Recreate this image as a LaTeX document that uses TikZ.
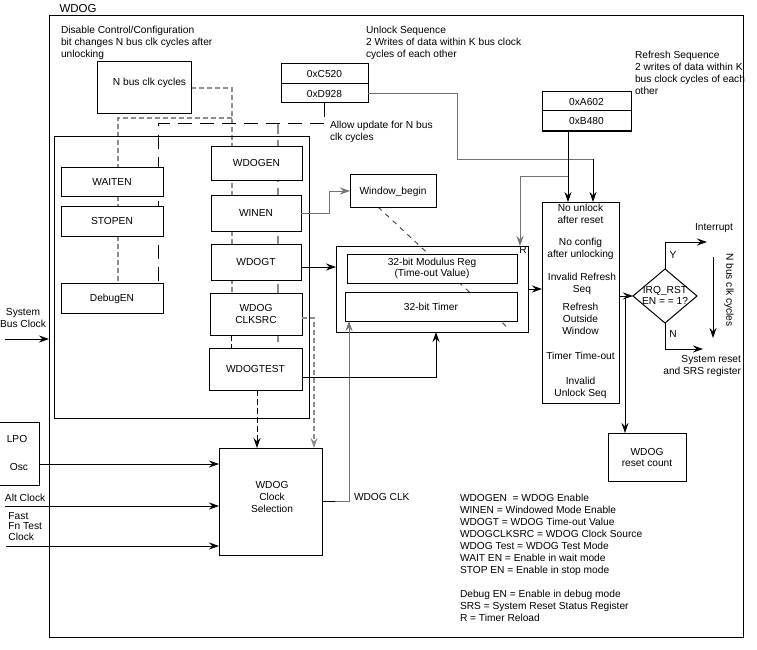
\documentclass[tikz,border=0pt]{standalone}
\usepackage{fontspec}
\setmainfont{Liberation Sans}
\usetikzlibrary{arrows.meta,shapes.geometric}
\pgfdeclarelayer{bg}
\pgfsetlayers{bg,main}
\newcommand\wdf{\fontsize{10.2}{12}\selectfont}
\begin{document}
\begin{tikzpicture}[x=1pt,y=-1pt,
  every node/.style={inner sep=0pt,outer sep=0pt,font=\wdf},
  box/.style={draw,line width=1pt,fill=white,align=center},
  frame/.style={draw,line width=1pt},
  one/.style={text height=7.3pt,text depth=0pt},
  arr/.style={line width=0.9pt,-{Stealth[length=10pt,width=7pt,inset=3.5pt]}},
  con/.style={line width=0.9pt},
  gdash/.style={line width=1.2pt,draw=black!45,dash pattern=on 5pt off 3pt},
  gdashl/.style={line width=1.4pt,draw=black!45,dash pattern=on 10pt off 6pt},
  kdash/.style={line width=1pt,dash pattern=on 14pt off 8pt},
  kdashs/.style={line width=1pt,dash pattern=on 6pt off 3pt},
  txt/.style={align=left,anchor=north west},
]
\useasboundingbox (0,0) rectangle (757,650);

% frame and titles
\node[frame,minimum width=694,minimum height=621] (outer) at (396,326.5) {};
\node[font=\fontsize{11.5}{13}\selectfont,anchor=west] (title) at (59.5,8.5) {WDOG};
\node[txt] (distxt) at (61,26.3) {Disable Control/Configuration\\bit changes N bus clk cycles after\\unlocking};
\node[txt] (unltxt) at (366,26.3) {Unlock Sequence\\2 Writes of data within K bus clock\\cycles of each other};
\node[txt] (reftxt) at (635,51.3) {Refresh Sequence\\2 writes of data within K\\bus clock cycles of each\\other};
\node[txt] (allowtxt) at (330,121.3) {Allow update for N bus\\clk cycles};

% top boxes
\node[box,minimum width=94,minimum height=52] (nbus) at (144,88) {};
\node[anchor=base] (nbustxt) at (149.5,85.6) {N bus clk cycles};
\node[box,one,minimum width=87,minimum height=20] (c520) at (324.5,74) {0xC520};
\node[box,one,minimum width=87,minimum height=19] (d928) at (324.5,93.5) {0xD928};
\node[box,one,minimum width=89,minimum height=19] (a602) at (586.5,101.5) {0xA602};
\node[box,one,minimum width=89,minimum height=20] (b480) at (586.5,121) {0xB480};

% configuration register block
\node[frame,minimum width=255,minimum height=282] (cfg) at (181.5,277) {};
\node[box,one,minimum width=102,minimum height=29] (waiten) at (112,181.5) {WAITEN};
\node[box,one,minimum width=102,minimum height=30] (stopen) at (112,221) {STOPEN};
\node[box,one,minimum width=102,minimum height=30] (debugen) at (112,298) {DebugEN};
\node[box,one,minimum width=91,minimum height=34] (wdogen) at (256.5,163) {WDOGEN};
\node[box,one,minimum width=90,minimum height=36] (winen) at (256,213) {WINEN};
\node[box,one,minimum width=90,minimum height=36] (wdogt) at (256,262) {WDOGT};
\node[box,minimum width=92,minimum height=42] (clksrc) at (256,314) {WDOG\\CLKSRC};
\node[box,one,minimum width=93,minimum height=42] (wdogtest) at (255.5,369) {WDOGTEST};

% clock selection
\node[box,minimum width=103,minimum height=107] (clksel) at (270.5,501.5) {};
\node[align=center] (clkseltxt) at (272,497) {WDOG\\Clock\\Selection};
\node[frame,minimum width=41,minimum height=63] (lpo) at (18.5,453.5) {};
\node (lpotxt) at (17,439) {LPO};
\node (osctxt) at (19,467) {Osc};

% timer
\node[box,one,minimum width=86,minimum height=33] (winbegin) at (393,190.5) {Window\_begin};
\node[frame,minimum width=192,minimum height=86] (timerout) at (432,289) {};
\node[box,minimum width=170,minimum height=29,font=\fontsize{10.2}{11}\selectfont] (modreg) at (432,268.5) {32-bit Modulus Reg\\(Time-out Value)};
\node[box,one,minimum width=172,minimum height=29] (timer) at (431,306.5) {32-bit Timer};
\node (rlbl) at (523,249.5) {R};

% error conditions
\node[box,minimum width=77,minimum height=201] (errbox) at (580.5,302.5) {};
\node[anchor=north,align=center] (e1) at (580.5,204.3) {No unlock\\after reset};
\node[anchor=north,align=center] (e2) at (580.5,238.3) {No config\\after unlocking};
\node[anchor=north,align=center] (e3) at (582,273.3) {Invalid Refresh\\Seq};
\node[anchor=north,align=center] (e4) at (580.5,303.3) {Refresh\\Outside\\Window};
\node[anchor=north,align=center] (e5) at (580.5,352.3) {Timer Time-out};
\node[anchor=north,align=center] (e6) at (580.5,377.3) {Invalid\\Unlock Seq};

\node[frame,diamond,minimum width=64,minimum height=54] (dia) at (665,296) {};
\node[align=center,font=\fontsize{10.2}{10.3}\selectfont] (diatxt) at (665,295.5) {IRQ\_RST\\EN = = 1?};
\node[box,minimum width=78,minimum height=48,font=\fontsize{10.2}{11}\selectfont] (resetcnt) at (647,457) {WDOG\\reset count};

\node[anchor=base] (ylbl) at (673,258.6) {Y};
\node[anchor=base] (nlbl) at (673,337.6) {N};
\node[anchor=base] (intr) at (714,230.6) {Interrupt};
\node[anchor=north east,align=right] (sysrst) at (741,355.3) {System reset\\and SRS register};
\node[rotate=-90] (nbusv) at (729,290) {N bus clk cycles};

% legend
\node[txt] (legend) at (460,494.3) {WDOGEN~ = WDOG Enable\\WINEN = Windowed Mode Enable\\WDOGT = WDOG Time-out Value\\WDOGCLKSRC = WDOG Clock Source\\WDOG Test = WDOG Test Mode\\WAIT EN = Enable in wait mode\\STOP EN = Enable in stop mode\\[12pt]Debug EN = Enable in debug mode\\SRS = System Reset Status Register\\R = Timer Reload};

% input labels
\node[anchor=north,align=center] (systxt) at (23,308.3) {System\\Bus Clock};
\node[anchor=base west] (alttxt) at (5,501.6) {Alt Clock};
\node[txt,font=\fontsize{10.2}{10.5}\selectfont] (fasttxt) at (8.5,512.3) {Fast\\Fn Test\\Clock};
\node[anchor=base west] (clktxt) at (354,500.6) {WDOG CLK};

\coordinate (sysin) at (5,339);
\coordinate (altin) at (5,506);
\coordinate (fastin) at (6,546);
\coordinate (intend) at (707,242);
\coordinate (nend) at (703,349);
\coordinate (nbs) at (713,257);
\coordinate (nbe) at (713,338);

% lines running behind boxes
\begin{pgfonlayer}{bg}
\draw[gdash] (nbus.east |- 0,88) -- (232,88) -- (clksrc.north -| 232,0);
\draw[gdash] (232,118) -- (118,118) -- (debugen.north -| 118,0);
\draw[kdash] (d928.south) -- (d928.south |- 0,124) -- (158,124) -- (debugen.north -| 158,0);
\draw[gdashl] (278,124) -- (wdogtest.north -| 278,0);
\draw[kdashs] (clksrc.south -| 231,0) -- (wdogtest.north -| 231,0);
\draw[line width=0.9pt,draw=black!75,dash pattern=on 5pt off 5pt] (winbegin.south -| 378,0) -- (508,328);
\end{pgfonlayer}

% connectors
\draw[arr] (sysin) -- (outer.west |- sysin);
\draw[arr] (lpo.east |- 0,464) -- (clksel.west |- 0,464);
\draw[arr] (altin) -- (clksel.west |- altin);
\draw[arr] (fastin) -- (clksel.west |- fastin);
\draw[con] (clksel.east |- 0,501) -- (335,501);
\draw[arr,draw=black!55] (335,501) -- (349,501) -- (timer.south -| 349,0);
\draw[arr] (wdogtest.east |- 0,377) -- (436,377) -- (timerout.south -| 436,0);
\draw[arr] (wdogt.east |- 0,267) -- (timerout.west |- 0,267);
\draw[arr,draw=black!55] (winen.east) -- (329,213) -- (329,191) -- (winbegin.west |- 0,191);
\draw[arr] (timerout.east) -- (errbox.west |- timerout.east);
\draw[line width=0.9pt,draw=black!55] (d928.east) -- (457,93.5) -- (457,159) -- (593,159);
\draw[arr] (593,159) -- (errbox.north -| 593,0);
\draw[arr] (b480.south -| 568,0) -- (errbox.north -| 568,0);
\draw[arr,draw=black!55] (568,176) -- (520,176) -- (timerout.north -| 520,0);
\draw[arr] (errbox.east |- dia.west) -- (dia.west);
\draw[arr] (625,297) -- (resetcnt.north -| 625,0);
\draw[arr] (dia.north) -- (dia.north |- intend) -- (intend);
\draw[arr] (dia.south) -- (dia.south |- nend) -- (nend);
\draw[arr] (nbs) -- (nbe);
\draw[arr,gdash] (clksrc.east |- 0,318) -- (314,318) -- (clksel.north -| 314,0);
\draw[arr,kdashs] (wdogtest.south -| 257,0) -- (clksel.north -| 257,0);
\end{tikzpicture}
\end{document}
